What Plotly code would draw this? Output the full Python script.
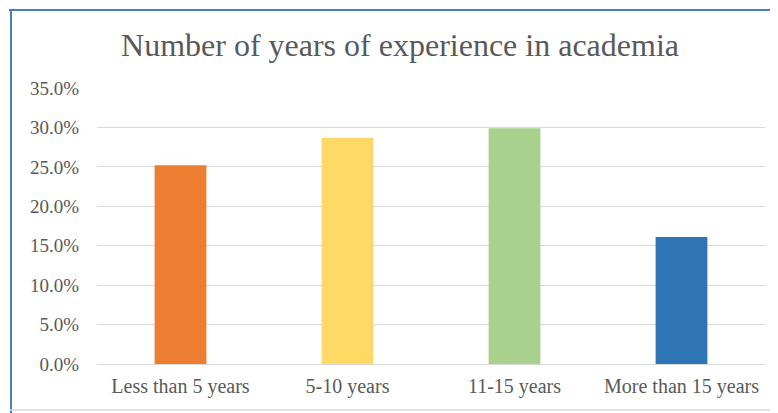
import plotly.graph_objects as go

categories = ["Less than 5 years", "5-10 years", "11-15 years", "More than 15 years"]
values = [0.252, 0.287, 0.299, 0.161]
colors = ["#ED7D31", "#FFD966", "#A9D18E", "#2E75B6"]
tick_vals = [0, 0.05, 0.10, 0.15, 0.20, 0.25, 0.30, 0.35]
title_text = "Number of years of experience in academia"

FONT = "Liberation Serif"
TXT = "#595959"

# page has an 8px body margin; work in page coordinates and convert
OFF = 8
W, H = 778 - OFF, 413 - OFF
L, R, T, B = 97 - OFF, 13, 88 - OFF, 49
pw = W - L - R
ph = H - T - B

def px_x(p):
    return (p - OFF - L) / pw

def px_y(p):
    return (H - B - (p - OFF)) / ph

fig = go.Figure(go.Bar(x=categories, y=values, marker=dict(color=colors, line=dict(width=0)),
                       hoverinfo="skip"))

fig.update_layout(
    width=W, height=H,
    margin=dict(l=L, r=R, t=T, b=B),
    paper_bgcolor="white", plot_bgcolor="white",
    showlegend=False,
    bargap=0.69,
    font=dict(family=FONT, color=TXT, size=16),
    title=dict(text=title_text, x=(400 - OFF) / W, xanchor="center",
               y=1 - (45 - OFF) / H, yanchor="middle",
               font=dict(family=FONT, size=32, color=TXT)),
    xaxis=dict(showgrid=False, showline=False, zeroline=False, ticks="",
               tickfont=dict(size=20, color=TXT, family=FONT), ticklabelstandoff=8),
    yaxis=dict(range=[0, 0.35], tickvals=tick_vals, tickformat=".1%",
               showgrid=True, gridcolor="#D9D9D9", gridwidth=1.3,
               zeroline=True, zerolinecolor="#D9D9D9", zerolinewidth=1.3,
               showline=False, ticks="",
               tickfont=dict(size=19, color=TXT, family=FONT), ticklabelstandoff=17),
    shapes=[
        dict(type="line", xref="paper", yref="paper", x0=px_x(9), x1=px_x(780),
             y0=px_y(10), y1=px_y(10), line=dict(color="#4A7CC0", width=2)),
        dict(type="line", xref="paper", yref="paper", x0=px_x(11), x1=px_x(11),
             y0=px_y(9), y1=px_y(415), line=dict(color="#4A7CC0", width=2)),
        dict(type="line", xref="paper", yref="paper", x0=px_x(10), x1=px_x(780),
             y0=px_y(410), y1=px_y(410), line=dict(color="#D9D9D9", width=1.5)),
    ],
)

fig.write_html("out.html")
